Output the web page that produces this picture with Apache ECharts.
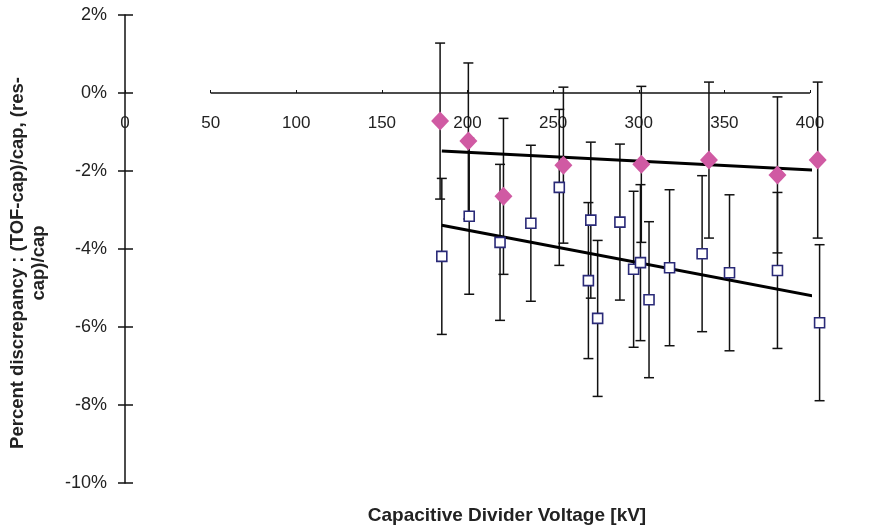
<!DOCTYPE html>
<html>
<head>
<meta charset="utf-8">
<script src="https://cdn.jsdelivr.net/npm/echarts@6/dist/echarts.min.js"></script>
<style>html,body{margin:0;padding:0;background:#fff;}#c{width:883px;height:527px;}</style>
</head>
<body>
<div id="c"></div>
<script>
// Diamond series (TOF-cap)/cap
var diamondX = [184, 200.5, 221, 256, 301.5, 341, 381, 404.5];
var diamondY = [-0.72, -1.23, -2.65, -1.85, -1.83, -1.72, -2.10, -1.72];
var diamondErr = [2, 2, 2, 2, 2, 2, 2, 2];
// Square series (res-cap)/cap
var squareX = [185, 201, 219, 237, 253.6, 272, 270.6, 276, 289, 297, 301, 306, 318, 337, 353, 381, 405.6];
var squareY = [-4.19, -3.16, -3.83, -3.34, -2.42, -3.26, -4.81, -5.78, -3.31, -4.52, -4.35, -5.30, -4.48, -4.12, -4.61, -4.55, -5.89];
var squareErr = [2, 2, 2, 2, 2, 2, 2, 2, 2, 2, 2, 2, 2, 2, 2, 2, 2];
// Linear trend lines (endpoints)
var trendDiamondX = [185, 404];
var trendDiamondY = [-1.49, -1.98];
var trendSquareX = [185, 406];
var trendSquareY = [-3.39, -5.24];
// Axes
var xTicks = [0, 50, 100, 150, 200, 250, 300, 350, 400];
var yTicks = [-10, -8, -6, -4, -2, 0, 2];
var xAxisLineFrom = [50, 400];

var FONT = 'Arial, "Liberation Sans", sans-serif';
var GRID = { left: 125, right: 73, top: 15, bottom: 44 };
var plotH = 527 - GRID.top - GRID.bottom;
var yMin = yTicks[0], yMax = yTicks[yTicks.length - 1];
var zeroFromBottom = plotH * (0 - yMin) / (yMax - yMin);

function pairs(xs, ys) { return xs.map(function (x, i) { return [x, ys[i]]; }); }
function errData(xs, ys, es) { return xs.map(function (x, i) { return [x, ys[i] - es[i], ys[i] + es[i]]; }); }

function errRender(params, api) {
  var x = api.value(0);
  var lo = api.coord([x, api.value(1)]);
  var hi = api.coord([x, api.value(2)]);
  var hw = 5;
  var st = { stroke: '#111', lineWidth: 1.5 };
  return {
    type: 'group',
    children: [
      { type: 'line', shape: { x1: lo[0], y1: lo[1], x2: hi[0], y2: hi[1] }, style: st },
      { type: 'line', shape: { x1: lo[0] - hw, y1: lo[1], x2: lo[0] + hw, y2: lo[1] }, style: st },
      { type: 'line', shape: { x1: hi[0] - hw, y1: hi[1], x2: hi[0] + hw, y2: hi[1] }, style: st }
    ]
  };
}

var chart = echarts.init(document.getElementById('c'), null, { renderer: 'canvas' });
chart.setOption({
  animation: false,
  backgroundColor: '#fff',
  grid: { left: GRID.left, right: GRID.right, top: GRID.top, bottom: GRID.bottom, containLabel: false },
  xAxis: {
    type: 'value', min: xTicks[0], max: xTicks[xTicks.length - 1], interval: 50,
    position: 'bottom', offset: -zeroFromBottom,
    axisLine: { show: true, onZero: false, lineStyle: { color: 'rgba(0,0,0,0)' } },
    axisTick: { show: true, inside: true, length: 3, lineStyle: { color: '#111' } },
    axisLabel: { margin: 22, color: '#222', fontSize: 17, fontFamily: FONT },
    splitLine: { show: false }
  },
  yAxis: [{
    type: 'value', min: yMin, max: yMax, interval: 2,
    axisLine: { show: true, onZero: false, lineStyle: { color: '#111', width: 1.5 } },
    axisTick: { show: true, inside: false, length: 7, lineStyle: { color: '#111', width: 1.5 } },
    axisLabel: { margin: 18, color: '#222', fontSize: 18, fontFamily: FONT, formatter: function (v) { return v + '%'; } },
    splitLine: { show: false }
  }, {
    type: 'value', position: 'left', min: yMin, max: yMax, interval: 2,
    axisLine: { show: false },
    axisTick: { show: true, inside: true, length: 8, lineStyle: { color: '#111', width: 1.5 } },
    axisLabel: { show: false },
    splitLine: { show: false }
  }],
  graphic: [
    { type: 'text', x: 507, y: 516, style: { text: 'Capacitive Divider Voltage [kV]', font: 'bold 19px ' + FONT, fill: '#222', textAlign: 'center', textVerticalAlign: 'middle' } },
    { type: 'text', x: 28, y: 263, rotation: Math.PI / 2, style: { text: 'Percent discrepancy : (TOF-cap)/cap, (res-\ncap)/cap', font: 'bold 18.5px ' + FONT, fill: '#222', textAlign: 'center', textVerticalAlign: 'middle', lineHeight: 21 } }
  ],
  series: [
    { type: 'custom', name: 'errSquare', renderItem: errRender, clip: false, encode: { x: 0, y: [1, 2] }, data: errData(squareX, squareY, squareErr), z: 2 },
    { type: 'custom', name: 'errDiamond', renderItem: errRender, clip: false, encode: { x: 0, y: [1, 2] }, data: errData(diamondX, diamondY, diamondErr), z: 2 },
    {
      type: 'line', name: 'trendDiamond', data: pairs(trendDiamondX, trendDiamondY), symbol: 'none', clip: false,
      lineStyle: { color: '#000', width: 3 }, z: 3,
      markLine: {
        silent: true, symbol: ['none', 'none'], label: { show: false },
        lineStyle: { color: '#111', width: 1.5, type: 'solid' },
        data: [[{ coord: [xAxisLineFrom[0], 0] }, { coord: [xAxisLineFrom[1], 0] }]]
      }
    },
    { type: 'line', name: 'trendSquare', data: pairs(trendSquareX, trendSquareY), symbol: 'none', clip: false, lineStyle: { color: '#000', width: 3 }, z: 3 },
    { type: 'scatter', name: 'square', data: pairs(squareX, squareY), symbol: 'rect', symbolSize: 10, clip: false, itemStyle: { color: '#fff', borderColor: '#2a2a78', borderWidth: 1.6, opacity: 1 }, z: 4 },
    { type: 'scatter', name: 'diamond', data: pairs(diamondX, diamondY), symbol: 'diamond', symbolSize: [18, 19], clip: false, itemStyle: { color: '#D05AA3', opacity: 1 }, z: 5 }
  ]
});
</script>
</body>
</html>
